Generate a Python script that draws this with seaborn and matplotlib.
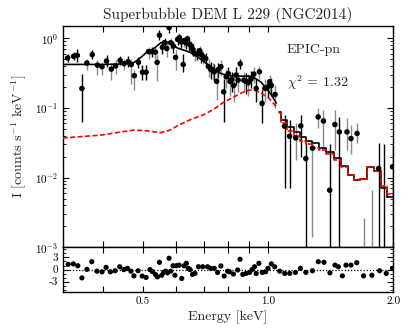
import numpy as np
import pandas as pd
import matplotlib
matplotlib.use("Agg")
import matplotlib.pyplot as plt
import seaborn as sns
from matplotlib.ticker import FixedLocator, NullFormatter, LogLocator, MultipleLocator, FixedFormatter

# ---------------- data ----------------
energy = [0.329, 0.340, 0.347, 0.356, 0.366, 0.377, 0.388, 0.398, 0.408, 0.419,
          0.429, 0.440, 0.450, 0.460, 0.468, 0.476, 0.487, 0.498, 0.508, 0.515,
          0.524, 0.535, 0.540, 0.547, 0.556, 0.563, 0.570, 0.577, 0.582, 0.591,
          0.598, 0.605, 0.611, 0.618, 0.624, 0.627, 0.633, 0.639, 0.646, 0.653,
          0.658, 0.665, 0.675, 0.684, 0.690, 0.698, 0.707, 0.718, 0.727, 0.734,
          0.741, 0.751, 0.758, 0.769, 0.781, 0.792, 0.801, 0.809, 0.816, 0.825,
          0.836, 0.846, 0.856, 0.873, 0.884, 0.895, 0.909, 0.923, 0.935, 0.952,
          0.966, 0.981, 0.997, 1.007, 1.017, 1.038, 1.094, 1.125, 1.164, 1.197,
          1.231, 1.277, 1.318, 1.357, 1.405, 1.446, 1.482, 1.546, 1.581, 1.635,
          1.700, 1.775, 1.843, 1.900, 1.990]
rate = [0.52, 0.55, 0.565, 0.19, 0.44, 0.58, 0.41, 0.39, 0.47, 0.36,
        0.40, 0.48, 0.43, 0.46, 0.42, 0.29, 0.45, 0.325, 0.325, 0.64,
        0.64, 0.63, 0.45, 1.10, 0.74, 0.86, 0.71, 1.42, 0.86, 0.77,
        0.53, 0.96, 1.02, 0.88, 0.42, 0.92, 0.86, 0.98, 0.82, 0.77,
        0.69, 0.60, 0.60, 0.66, 0.58, 0.54, 0.51, 0.39, 0.355, 0.35,
        0.33, 0.24, 0.355, 0.39, 0.17, 0.28, 0.31, 0.24, 0.255, 0.21,
        0.295, 0.25, 0.43, 0.25, 0.24, 0.23, 0.26, 0.305, 0.19, 0.33,
        0.116, 0.19, 0.20, 0.236, 0.21, 0.156, 0.0546, 0.0393, 0.0371, 0.0552,
        0.0188, 0.0265, 0.0743, 0.065, 0.0066, 0.0578, 0.0453, 0.0453, 0.0364, 0.043,
        0.0004, 0.0004, 0.0135, 0.0003, 0.0143]
rate_lo = [0.46, 0.48, 0.46, 0.063, 0.35, 0.51, 0.30, 0.30, 0.39, 0.25,
           0.31, 0.41, 0.35, 0.39, 0.22, 0.18, 0.37, 0.25, 0.25, 0.51,
           0.54, 0.51, 0.24, 0.94, 0.60, 0.71, 0.54, 1.20, 0.70, 0.62,
           0.35, 0.80, 0.85, 0.72, 0.33, 0.75, 0.70, 0.80, 0.66, 0.60,
           0.55, 0.47, 0.48, 0.53, 0.44, 0.42, 0.40, 0.28, 0.26, 0.25,
           0.24, 0.13, 0.27, 0.29, 0.063, 0.19, 0.23, 0.15, 0.17, 0.12,
           0.21, 0.17, 0.36, 0.17, 0.16, 0.15, 0.19, 0.23, 0.12, 0.26,
           0.06, 0.12, 0.14, 0.17, 0.15, 0.10, 0.0070, 0.0070, 0.018, 0.020,
           0.0003, 0.0014, 0.051, 0.025, 0.0003, 0.025, 0.0003, 0.025, 0.022, 0.031,
           0.0001, 0.0001, 0.0001, 0.0001, 0.0001]
rate_hi = [0.60, 0.64, 0.71, 0.31, 0.51, 0.67, 0.48, 0.46, 0.57, 0.43,
           0.48, 0.55, 0.51, 0.55, 0.51, 0.35, 0.54, 0.41, 0.41, 0.75,
           0.75, 0.75, 0.57, 1.30, 0.88, 0.99, 0.88, 1.60, 1.00, 0.92,
           0.67, 1.10, 1.18, 1.02, 0.60, 1.05, 1.00, 1.12, 0.96, 0.90,
           0.82, 0.72, 0.72, 0.78, 0.70, 0.66, 0.62, 0.50, 0.45, 0.44,
           0.42, 0.33, 0.44, 0.48, 0.26, 0.36, 0.39, 0.32, 0.33, 0.29,
           0.38, 0.33, 0.51, 0.33, 0.32, 0.31, 0.34, 0.38, 0.26, 0.40,
           0.18, 0.26, 0.26, 0.30, 0.27, 0.21, 0.079, 0.067, 0.060, 0.079,
           0.032, 0.033, 0.099, 0.093, 0.030, 0.093, 0.074, 0.071, 0.056, 0.060,
           0.0026, 0.0066, 0.031, 0.030, 0.030]
group = list("AAAABABBAB" "BABABBAAAB" "ABBAAABABA" "BABAABABAB" "ABABABABAB"
             "ABABABABAB" "ABABABABAB" "ABABABAABA" "ABBBABABBB" "BBAAA")

# total model (black) and component (red)
mod_E_smooth = [0.32, 0.40, 0.47, 0.49, 0.51, 0.53, 0.55, 0.563, 0.582, 0.605,
                0.628, 0.66, 0.70, 0.728, 0.76, 0.80, 0.85, 0.91, 0.93, 0.96,
                0.99, 1.02, 1.045]
mod_tot_smooth = [0.42, 0.42, 0.43, 0.51, 0.63, 0.71, 0.85, 0.91, 0.84, 0.72,
                  0.67, 0.60, 0.46, 0.39, 0.32, 0.29, 0.285, 0.285, 0.265, 0.235,
                  0.19, 0.15, 0.117]
comp_E_smooth = [0.32, 0.36, 0.40, 0.44, 0.475, 0.51, 0.55, 0.58, 0.61, 0.65,
                 0.70, 0.74, 0.78, 0.82, 0.86, 0.90, 0.93, 0.96, 1.00, 1.03, 1.05]
comp_smooth = [0.037, 0.039, 0.041, 0.045, 0.048, 0.047, 0.044, 0.048, 0.057, 0.068,
               0.080, 0.096, 0.12, 0.14, 0.163, 0.18, 0.178, 0.163, 0.14, 0.115, 0.10]
step_E = [1.06, 1.09, 1.13, 1.17, 1.21, 1.25, 1.30, 1.35, 1.41, 1.47,
          1.53, 1.58, 1.63, 1.69, 1.76, 1.83, 1.90, 1.97, 2.01]
step_tot = [0.088, 0.067, 0.053, 0.045, 0.038, 0.033, 0.031, 0.027, 0.023, 0.019,
            0.0145, 0.011, 0.0092, 0.0095, 0.0142, 0.0125, 0.0072, 0.0053, 0.0053]
step_comp = [0.085, 0.060, 0.047, 0.040, 0.034, 0.030, 0.027, 0.025, 0.0215, 0.018,
             0.0142, 0.011, 0.0092, 0.0095, 0.0142, 0.0125, 0.0075, 0.0058, 0.0058]

# residuals
res_E = [0.330, 0.3395, 0.348, 0.356, 0.366, 0.376, 0.387, 0.398, 0.407, 0.417,
         0.428, 0.439, 0.449, 0.458, 0.467, 0.475, 0.486, 0.497, 0.508, 0.519,
         0.526, 0.535, 0.541, 0.547, 0.554, 0.560, 0.566, 0.572, 0.577, 0.582,
         0.590, 0.596, 0.601, 0.610, 0.619, 0.627, 0.635, 0.642, 0.648, 0.657,
         0.666, 0.679, 0.695, 0.714, 0.727, 0.741, 0.755, 0.769, 0.783, 0.798,
         0.806, 0.824, 0.844, 0.855, 0.868, 0.884, 0.901, 0.914, 0.926, 0.935,
         0.949, 0.967, 0.985, 0.998, 1.017, 1.036, 1.065, 1.095, 1.126, 1.162,
         1.195, 1.231, 1.277, 1.319, 1.361, 1.407, 1.447, 1.474, 1.507, 1.538,
         1.581, 1.632, 1.695, 1.775, 1.853, 1.922, 1.99]
res_val = [1.3, 1.4, 0.95, -2.05, 0.05, 1.95, -0.4, -0.55, 0.55, -0.55,
           -0.3, 0.7, 0.0, 0.3, -0.4, -1.55, -0.3, -1.6, -1.95, 0.0,
           -0.5, -1.2, -1.8, 1.8, -1.4, -0.7, -0.4, -0.8, 2.8, -0.4,
           0.95, -1.4, 0.95, 1.1, -2.2, 0.95, 1.55, 0.3, 0.0, -1.2,
           -0.95, 0.7, 0.7, 0.7, 0.3, 0.3, -0.7, 0.9, -1.6, -0.4,
           -0.55, -1.1, -0.1, 2.55, -1.2, -0.95, -0.7, 0.0, 0.7, -0.95,
           1.55, -0.7, -0.55, 0.3, 1.4, 0.7, -0.4, -0.95, -0.95, -0.7,
           0.3, -0.7, -0.3, 1.95, 1.8, -0.8, 1.1, 0.7, -1.55, 1.1,
           1.1, 1.7, -1.55, -1.4, -0.3, -0.95, 0.3]

x_ticks = [0.4, 0.5, 0.6, 0.7, 0.8, 0.9, 1.0, 2.0]
x_ticklabels = ["", "0.5", "", "", "", "", "1.0", "2.0"]
res_ticks = [-3, 0, 3]
res_ticklabels = ["-3", "0", "3"]

# ---------------- style ----------------
sns.set_style("ticks")
plt.rcParams.update({
    "font.family": ["cmr10", "DejaVu Serif"],
    "mathtext.fontset": "cm",
    "axes.unicode_minus": False,
    "axes.formatter.use_mathtext": True,
    "axes.linewidth": 1.0,
    "axes.edgecolor": "black",
    "xtick.direction": "in",
    "ytick.direction": "in",
    "xtick.top": True,
    "ytick.right": True,
    "xtick.major.size": 4.5,
    "ytick.major.size": 4.5,
    "xtick.minor.size": 2.2,
    "ytick.minor.size": 2.2,
    "xtick.color": "black",
    "ytick.color": "black",
})

fig = plt.figure(figsize=(4.15, 3.32), dpi=100)
gs = fig.add_gridspec(2, 1, height_ratios=[221, 44.4], hspace=0,
                      left=0.151, right=0.948, top=0.922, bottom=0.121)
ax = fig.add_subplot(gs[0])
axr = fig.add_subplot(gs[1], sharex=ax)

df = pd.DataFrame({"E": energy, "I": rate, "lo": rate_lo, "hi": rate_hi, "grp": group})
colors = {"A": "black", "B": "#8a8a8a"}
for g, sub in df.groupby("grp"):
    ax.vlines(sub["E"], sub["lo"], sub["hi"], color=colors[g], lw=1.0, zorder=2)

sns.lineplot(x=comp_E_smooth, y=comp_smooth, ax=ax, color="red", lw=1.2,
             linestyle=(0, (3, 1.5)), zorder=3)
sns.lineplot(x=step_E, y=step_comp, ax=ax, color="red", lw=1.2,
             linestyle=(0, (3, 1.0)), drawstyle="steps-mid", zorder=3)
sns.lineplot(x=mod_E_smooth, y=mod_tot_smooth, ax=ax, color="black", lw=1.2, zorder=4)
sns.lineplot(x=step_E, y=step_tot, ax=ax, color="black", lw=1.2,
             drawstyle="steps-mid", zorder=2.5)
sns.scatterplot(data=df, x="E", y="I", ax=ax, color="black", s=16,
                edgecolor="none", zorder=5, legend=False)

ax.set_xscale("log")
ax.set_yscale("log")
ax.set_xlim(0.32, 2.0)
ax.set_ylim(1e-3, 1.5)
ax.yaxis.set_major_locator(LogLocator(base=10, numticks=10))
ax.yaxis.set_minor_locator(LogLocator(base=10, subs=np.arange(2, 10), numticks=10))
ax.xaxis.set_major_locator(FixedLocator(x_ticks))
ax.xaxis.set_minor_locator(FixedLocator([]))
ax.tick_params(axis="x", labelbottom=False)
ax.tick_params(axis="y", labelsize=8)
ax.set_xlabel("")
ax.set_ylabel(r"I [counts s$^{-1}$ keV$^{-1}$]", fontsize=10, labelpad=4)
ax.set_title("Superbubble DEM L 229 (NGC2014)", fontsize=11, pad=5)
ax.text(0.678, 0.89, "EPIC-pn", transform=ax.transAxes, fontsize=10,
        ha="left", va="center")
ax.text(0.678, 0.745, r"$\chi^2$ = 1.32", transform=ax.transAxes, fontsize=10,
        ha="left", va="center")

sns.scatterplot(x=res_E, y=res_val, ax=axr, color="black", s=14,
                edgecolor="none", legend=False, zorder=3)
axr.axhline(0, color="black", lw=0.9, ls=(0, (1, 1.5)), zorder=2)
axr.set_ylim(-5.5, 5.5)
axr.set_xlim(0.32, 2.0)
axr.yaxis.set_major_locator(FixedLocator(res_ticks))
axr.yaxis.set_major_formatter(FixedFormatter(res_ticklabels))
axr.yaxis.set_minor_locator(MultipleLocator(1))
axr.xaxis.set_major_locator(FixedLocator(x_ticks))
axr.xaxis.set_major_formatter(FixedFormatter(x_ticklabels))
axr.xaxis.set_minor_locator(FixedLocator([]))
axr.tick_params(axis="both", labelsize=8)
axr.set_xlabel("Energy [keV]", fontsize=10, labelpad=3)
axr.set_ylabel("")

fig.savefig("out.png", dpi=100)
